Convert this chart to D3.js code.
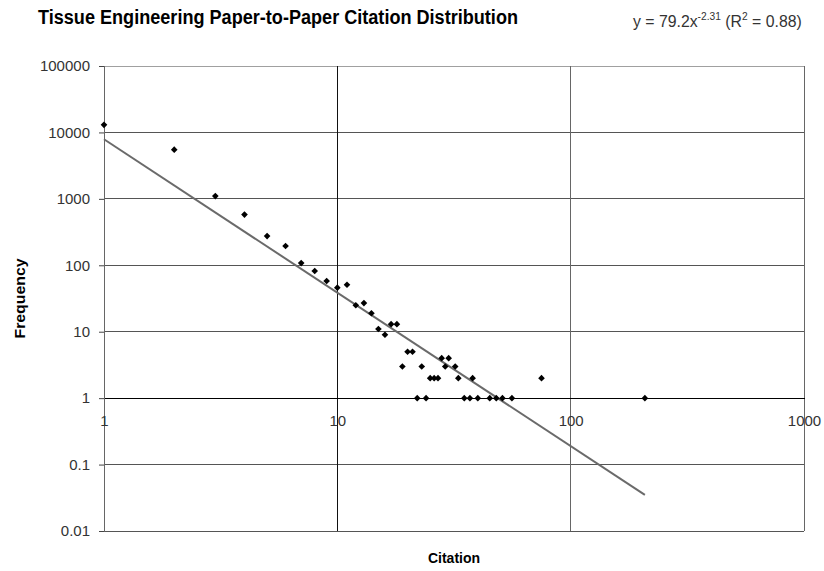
<!DOCTYPE html>
<html>
<head>
<meta charset="utf-8">
<script src="https://cdn.jsdelivr.net/npm/d3@7"></script>
<style>
  body { margin: 0; background: #fff; }
  text { font-family: "Liberation Sans", Arial, sans-serif; }
</style>
</head>
<body>
<div id="wrapper"></div>
<script>
// citation count vs number of papers with that count
const citations = [1, 2, 3, 4, 5, 6, 7, 8, 9, 10, 11, 12, 13, 14, 15, 16, 17, 18,
  19, 20, 21, 22, 23, 24, 25, 26, 27, 28, 29, 30, 32, 33, 35, 37, 38, 40, 45, 48, 51, 56, 75, 208]
const frequencies = [13000, 5500, 1100, 580, 275, 195, 108, 82, 58, 46, 51, 25, 27, 19, 11, 9, 13, 13,
  3, 5, 5, 1, 3, 1, 2, 2, 2, 4, 3, 4, 3, 2, 1, 1, 2, 1, 1, 1, 1, 1, 2, 1]

const xTicks = [1, 10, 100, 1000]
const yTicks = [0.01, 0.1, 1, 10, 100, 1000, 10000, 100000]

// power trendline as drawn
const trendA = 7900
const trendB = -2.31
const trendRange = [1, 208]

const titleText = "Tissue Engineering Paper-to-Paper Citation Distribution"

const dimensions = {
  width: 824,
  height: 571,
  margin: { top: 66, right: 20, bottom: 40, left: 104 }
}
dimensions.boundedWidth = dimensions.width - dimensions.margin.left - dimensions.margin.right
dimensions.boundedHeight = dimensions.height - dimensions.margin.top - dimensions.margin.bottom

const svg = d3.select("#wrapper")
  .append("svg")
  .attr("width", dimensions.width)
  .attr("height", dimensions.height)

const bounds = svg.append("g")
  .attr("transform", `translate(${dimensions.margin.left},${dimensions.margin.top})`)

const xScale = d3.scaleLog()
  .domain([1, 1000])
  .range([0, dimensions.boundedWidth])

const yScale = d3.scaleLog()
  .domain([0.01, 100000])
  .range([dimensions.boundedHeight, 0])

// gridlines
bounds.append("g")
  .selectAll("line")
  .data(yTicks.filter(d => d !== 1))
  .join("line")
  .attr("x1", 0)
  .attr("x2", dimensions.boundedWidth)
  .attr("y1", d => yScale(d))
  .attr("y2", d => yScale(d))
  .attr("stroke", d => d === 100000 ? "#a0a0a0" : "#555")
  .attr("stroke-width", 1)
  .attr("shape-rendering", "crispEdges")

bounds.append("g")
  .selectAll("line")
  .data(xTicks)
  .join("line")
  .attr("x1", d => xScale(d))
  .attr("x2", d => xScale(d))
  .attr("y1", 0)
  .attr("y2", dimensions.boundedHeight)
  .attr("stroke", d => d === 10 ? "#111" : "#666")
  .attr("shape-rendering", "crispEdges")

// y axis
const yAxisGenerator = d3.axisLeft(yScale)
  .tickValues(yTicks)
  .tickFormat(d => String(d))
  .tickSize(5)
  .tickPadding(9)

const yAxis = bounds.append("g")
  .call(yAxisGenerator)
yAxis.select(".domain").attr("stroke", "#666")
yAxis.selectAll(".tick line").attr("stroke", "#444")
yAxis.selectAll("text")
  .attr("fill", "#333")
  .style("font-size", "15px")
  .style("font-family", "Liberation Sans, Arial, sans-serif")

// x axis crosses at y = 1
const xAxisGenerator = d3.axisBottom(xScale)
  .tickValues(xTicks)
  .tickFormat(d => String(d))
  .tickSize(0)
  .tickPadding(17)

const xAxis = bounds.append("g")
  .attr("transform", `translate(0,${yScale(1)})`)
  .call(xAxisGenerator)
xAxis.select(".domain").attr("stroke", "#000").attr("shape-rendering", "crispEdges")
xAxis.selectAll("text")
  .attr("fill", "#333")
  .style("font-size", "15px")
  .style("font-family", "Liberation Sans, Arial, sans-serif")

// trendline
const trendData = trendRange.map(x => [x, trendA * Math.pow(x, trendB)])
bounds.append("path")
  .datum(trendData)
  .attr("d", d3.line().x(d => xScale(d[0])).y(d => yScale(d[1])))
  .attr("stroke", "#6a6a6a")
  .attr("stroke-width", 2)
  .attr("fill", "none")

// points
const points = citations.map((c, i) => ({ c, f: frequencies[i] }))
bounds.append("g")
  .selectAll("path")
  .data(points)
  .join("path")
  .attr("d", d3.symbol(d3.symbolSquare, 22))
  .attr("transform", d => `translate(${xScale(d.c)},${yScale(d.f)}) rotate(45)`)
  .attr("fill", "#000")

// titles
svg.append("text")
  .attr("x", 38)
  .attr("y", 24)
  .style("font-size", "20px")
  .style("font-weight", "bold")
  .attr("fill", "#000")
  .attr("textLength", 480)
  .attr("lengthAdjust", "spacingAndGlyphs")
  .text(titleText)

// equation text is drawn narrow, so squeeze it to its width
const eqGroup = svg.append("g")
const eq = eqGroup.append("text")
  .attr("x", 0)
  .attr("y", 0)
  .style("font-size", "17px")
  .attr("fill", "#333")
eq.append("tspan").text("y = 79.2x")
eq.append("tspan").attr("dy", -7).style("font-size", "11px").text("-2.31")
eq.append("tspan").attr("dy", 7).text(" (R")
eq.append("tspan").attr("dy", -7).style("font-size", "11px").text("2")
eq.append("tspan").attr("dy", 7).text(" = 0.88)")
const eqWidth = eq.node().getComputedTextLength()
eqGroup.attr("transform", `translate(633,27) scale(${169 / eqWidth},1)`)

svg.append("text")
  .attr("transform", `translate(25,${dimensions.margin.top + dimensions.boundedHeight / 2}) rotate(-90)`)
  .attr("text-anchor", "middle")
  .style("font-size", "15px")
  .style("font-weight", "bold")
  .attr("textLength", 80)
  .attr("lengthAdjust", "spacingAndGlyphs")
  .text("Frequency")

svg.append("text")
  .attr("x", dimensions.margin.left + dimensions.boundedWidth / 2)
  .attr("y", 563)
  .attr("text-anchor", "middle")
  .style("font-size", "14px")
  .style("font-weight", "bold")
  .text("Citation")
</script>
</body>
</html>
